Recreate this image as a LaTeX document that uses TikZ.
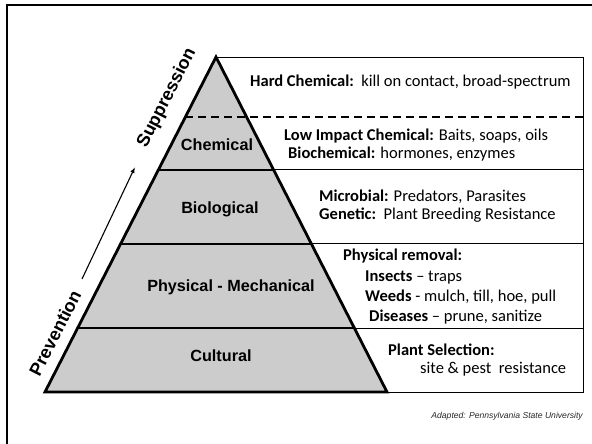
\documentclass[tikz,border=0pt]{standalone}
\usepackage{fontspec}
\setmainfont{Liberation Sans}
\newfontfamily\notefont{Carlito}
\usetikzlibrary{arrows.meta}
\definecolor{pyr_gray}{gray}{0.8}

\begin{document}
\begin{tikzpicture}[x=1pt, y=-1pt]
  \tikzset{
    thick_line/.style={line width=2.4pt},
    thin_line/.style={line width=0.9pt},
    level_label/.style={font=\fontsize{16.2}{16.2}\selectfont\bfseries},
    side_label/.style={font=\fontsize{18}{18}\selectfont\bfseries, rotate=63},
    note/.style={anchor=base west, inner sep=0pt, font=\notefont\fontsize{16.5}{16.5}\selectfont},
  }
  \useasboundingbox (0,0) rectangle (592,444);

  % slide frame
  \draw[line width=2.5pt] (7,444) -- (7,5) -- (592,5);

  % characteristic coordinates of pyramid
  \coordinate (apex) at (216,57);
  \coordinate (base_l) at (45,392);
  \coordinate (base_r) at (387,392);
  \coordinate (tab_ne) at (583,57);
  \coordinate (tab_se) at (583,392);

  % pyramid body
  \fill[pyr_gray] (apex) -- (base_l) -- (base_r) -- cycle;

  % level borders on both edges
  \path (apex) -- (base_l)
    coordinate[pos=0.179] (lev_l1) coordinate[pos=0.337] (lev_l2)
    coordinate[pos=0.558] (lev_l3) coordinate[pos=0.809] (lev_l4);
  \path (apex) -- (base_r)
    coordinate[pos=0.337] (lev_r2)
    coordinate[pos=0.558] (lev_r3) coordinate[pos=0.809] (lev_r4);

  % table
  \draw[thin_line] (apex) -- (tab_ne) -- (tab_se) -- (base_r);
  \draw[thin_line] (lev_r2) -- (lev_r2 -| tab_ne);
  \draw[thin_line] (lev_r3) -- (lev_r3 -| tab_ne);
  \draw[thin_line] (lev_r4) -- (lev_r4 -| tab_ne);
  \draw[line width=2pt, dash pattern=on 8pt off 5pt] (lev_l1) -- (lev_l1 -| tab_ne);

  % pyramid lines
  \draw[thick_line] (lev_l2) -- (lev_r2);
  \draw[thick_line] (lev_l3) -- (lev_r3);
  \draw[thick_line] (lev_l4) -- (lev_r4);
  \draw[line width=2.8pt] (apex) -- (base_l) -- (base_r) -- cycle;

  % level names
  \node[level_label] (chemical) at (217,145) {Chemical};
  \node[level_label] (biological) at (220,209) {Biological};
  \node[level_label] (physical) at (231,287) {Physical - Mechanical};
  \node[level_label] (cultural) at (221,356) {Cultural};

  % side arrow
  \node[side_label] (suppression) at (167,98) {Suppression};
  \node[side_label] (prevention) at (55,333) {Prevention};
  \coordinate (arr_a) at (82,279);
  \coordinate (arr_b) at (135,167);
  \draw[line width=1.1pt, -{Latex[length=6pt, width=4.5pt]}] (arr_a) -- (arr_b);

  % table text
  \node[note] (hard) at (250,87) {\textbf{Hard Chemical:}\ \ kill on contact, broad-spectrum};
  \node[note] (lowimp) at (284,140) {\textbf{Low Impact Chemical:} Baits, soaps, oils};
  \node[note] (biochem) at (288,158) {\textbf{Biochemical:} hormones, enzymes};
  \node[note] (microbial) at (319,201) {\textbf{Microbial:} Predators, Parasites};
  \node[note] (genetic) at (319,219) {\textbf{Genetic:}\ \ Plant Breeding Resistance};
  \node[note] (removal) at (343,260) {\textbf{Physical removal:}};
  \node[note] (insects) at (365,281) {\textbf{Insects} – traps};
  \node[note] (weeds) at (365,301) {\textbf{Weeds} - mulch, till, hoe, pull};
  \node[note] (diseases) at (369,321) {\textbf{Diseases} – prune, sanitize};
  \node[note] (selection) at (388,355) {\textbf{Plant Selection:}};
  \node[note] (site) at (420,373) {site \& pest\ \ resistance};

  % source
  \node[anchor=base east, inner sep=0pt, font=\fontsize{8.6}{8.6}\selectfont\itshape, text=black!85] (source) at (583,418) {Adapted: Pennsylvania State University};
\end{tikzpicture}
\end{document}
